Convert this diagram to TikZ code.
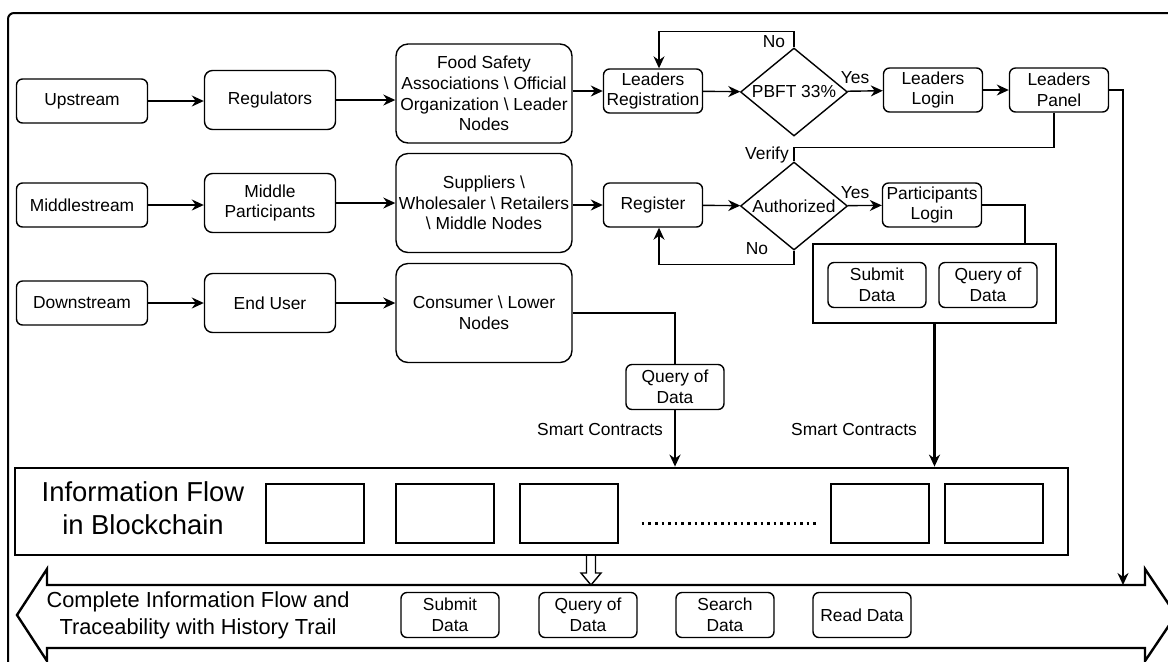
\documentclass[tikz,border=0pt]{standalone}
\usepackage{fontspec}
\setmainfont{Liberation Sans}
\usetikzlibrary{shapes.geometric,arrows.meta}

\begin{document}
\begin{tikzpicture}[x=0.5pt, y=-0.5pt, line width=0.7pt,
		font=\fontsize{8.7}{10.3}\selectfont,
		>={Stealth[length=6pt,width=5.5pt]}]
	 	\useasboundingbox (0,0) rectangle (1168,661);
	 	\clip (0,0) rectangle (1168,661);

	 	% frame and the big two-way arrow
	 	\draw [line width=1pt, rounded corners=3pt] (8,670) -- (8,13) -- (1180,13);
	 	\draw [line width=1.2pt, fill=white] (17,615) -- (47,569) -- (47,585) -- (1145,585) -- (1145,569) -- (1176,615)
	 		-- (1145,661) -- (1145,648) -- (47,648) -- (47,661) -- cycle;

	 	\begin{scope}[every node/.style={draw, rounded corners=3pt, align=center, inner sep=1pt, minimum width=65.5pt, minimum height=22pt}]
	 	\node (up)   at (82, 101) {Upstream};
	 	\node (mid)  at (82, 205) {Middlestream};
	 	\node (down) at (82, 303) {Downstream};
	 	\end{scope}

	 	\begin{scope}[every node/.style={draw, rounded corners=4pt, align=center, inner sep=1pt, minimum width=65.5pt, minimum height=29.5pt}]
	 	\node (reg)  at (270, 100) {Regulators};
	 	\node (midp) at (270, 203) {Middle\\Participants};
	 	\node (user) at (270, 303) {End User};
	 	\end{scope}

	 	\begin{scope}[every node/.style={draw, rounded corners=6pt, align=center, inner sep=1pt, minimum width=88pt, minimum height=49.5pt}]
	 	\node (food) at (484, 93.5) {Food Safety\\Associations \textbackslash{} Official\\Organization \textbackslash{} Leader\\Nodes};
	 	\node (sup)  at (484, 203) {Suppliers \textbackslash\\Wholesaler \textbackslash{} Retailers\\\textbackslash{} Middle Nodes};
	 	\node (cons) at (484, 313) {Consumer \textbackslash{} Lower\\Nodes};
	 	\end{scope}

	 	\begin{scope}[every node/.style={draw, rounded corners=3pt, align=center, inner sep=1pt, minimum width=49.5pt, minimum height=22pt}]
	 	\node (lreg)   at (653, 91)  {Leaders\\Registration};
	 	\node (login)  at (933, 90)  {Leaders\\Login};
	 	\node (panel)  at (1059, 90) {Leaders\\Panel};
	 	\node (regi)   at (653, 205) {Register};
	 	\node (plogin) at (932, 205) {Participants\\Login};
	 	\end{scope}

	 	\begin{scope}[every node/.style={diamond, draw, aspect=1.2, inner sep=0pt, minimum width=53.5pt, minimum height=44pt}]
	 	\node (pbft) at (794, 92)  {PBFT 33\%};
	 	\node (auth) at (794, 206) {Authorized};
	 	\end{scope}

	 	\node [draw, line width=1.4pt, minimum width=121.5pt, minimum height=39.5pt] (grp) at (934.5, 283.5) {};
	 	\node [draw, line width=1.4pt, minimum width=526.5pt, minimum height=43.5pt] (chain) at (541.5, 511.5) {};

	 	\begin{scope}[every node/.style={draw, rounded corners=3pt, align=center, inner sep=1pt, minimum width=49pt, minimum height=22.5pt}]
	 	\node (sub1) at (877, 285) {Submit\\Data};
	 	\node (qry1) at (988, 285) {Query of\\Data};
	 	\node (qry0) at (675, 387) {Query of\\Data};

	 	\node (sub2) at (450, 615) {Submit\\Data};
	 	\node (qry2) at (588, 615) {Query of\\Data};
	 	\node (srch) at (725, 615) {Search\\Data};
	 	\node (read) at (862, 615) {Read Data};
	 	\end{scope}

	 	% blocks of the chain
	 	\begin{scope}[every node/.style={draw, minimum width=49pt, minimum height=29.5pt}]
	 	\node (b1) at (315, 513.5) {};
	 	\node (b2) at (445, 513.5) {};
	 	\node (b3) at (569, 513.5) {};
	 	\node (b4) at (880, 513.5) {};
	 	\node (b5) at (994, 513.5) {};
	 	\end{scope}
	 	\draw [dotted, line width=1.3pt] ([xshift=11.5pt, yshift=-5pt]b3.east) -- ([xshift=-5.5pt, yshift=-5pt]b4.west);

	 	% plain labels
	 	\node (ifb)   at (143, 511) {\fontsize{13.7}{16.5}\selectfont\begin{tabular}{@{}c@{}}Information Flow\\in Blockchain\end{tabular}};
	 	\node (trace) at (198, 616) {\fontsize{10.9}{13.5}\selectfont\begin{tabular}{@{}c@{}}Complete Information Flow and\\Traceability with History Trail\end{tabular}};
	 	\node (yes1) at (855, 78)  {Yes};
	 	\node (yes2) at (855, 193) {Yes};
	 	\node (no1)  at (774, 42)  {No};
	 	\node (no2)  at (757, 249) {No};
	 	\node (vfy)  at (767, 155) {Verify};
	 	\node (sc1)  at (600, 429) {Smart Contracts};
	 	\node (sc2)  at (854, 429) {Smart Contracts};

	 	\coordinate (rtop) at (1123, 585);
	 	\coordinate (gin)  at (1025, 244);


	 	\path [->] (up) edge (up -| reg.west);
	 	\path [->] (mid) edge (mid -| midp.west);
	 	\path [->] (down) edge (down -| user.west);

	 	\path [->] (reg) edge (reg -| food.west);
	 	\path [->] (midp) edge (midp -| sup.west);
	 	\path [->] (user) edge (user -| cons.west);


	 	\draw [->] (food.east |- lreg) -- (lreg);
	 	\path [->] (lreg) edge (pbft);
	 	\path [->] (pbft) edge (login);
	 	\path [->] (login) edge (panel);
	 	\draw [->] (pbft.north) -- ++(0,-16) -| ([xshift=3pt]lreg.north);

	 	\draw [->] (sup.east |- regi) -- (regi);
	 	\path [->] (regi) edge (auth);
	 	\path [->] (auth) edge (plogin);
	 	\draw [->] (auth.south) -- ++(0,14) -| ([xshift=3pt]regi.south);
	 	\draw ([xshift=-2.5pt]panel.south) -- ++(0,35) -| (auth.north);


	 	\draw [->, line width=1.4pt] (panel.east) -| (rtop);
	 	\draw [line width=1.4pt] (plogin.east) -| (gin);
	 	\draw [->, line width=1.4pt] (grp.south) -- (grp.south |- chain.north);
	 	\draw [line width=1.4pt] (cons.east) -| (qry0.north);
	 	\draw [->, line width=1.4pt] (qry0.south) -- (qry0.south |- chain.north);

	 	% hollow arrow down into the trail
	 	\draw [fill=white] (586.5,556) -- (586.5,573) -- (581,573) -- (591,585) -- (601,573) -- (595.5,573) -- (595.5,556);

	 	\end{tikzpicture}
\end{document}
